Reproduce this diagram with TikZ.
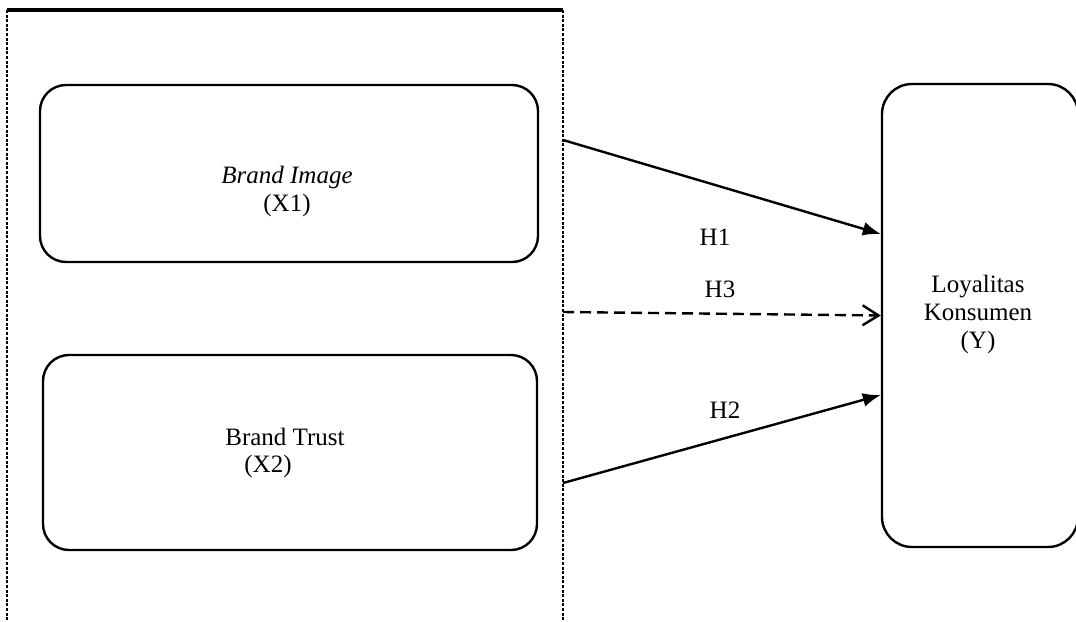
\documentclass[tikz,border=0pt]{standalone}
\usepackage{fontspec}
\setmainfont{Liberation Serif}
\usepackage{tikz}
\usetikzlibrary{arrows.meta}

\tikzset{
  varbox/.style={draw=black, line width=1.2pt, rounded corners=13pt, inner sep=0pt},
  lbl/.style={font=\fontsize{12.5}{14}\selectfont, inner sep=1pt},
  hyp/.style={line width=1.2pt, -{Latex[length=9pt,width=7pt]}},
}

\begin{document}
\begin{tikzpicture}[x=.5pt, y=-.5pt]

\useasboundingbox (0,0) rectangle (1076,621);
\clip (0,0) rectangle (1076,621);

% group of independent variables
\draw[line width=1.6pt] (7,10) -- (563,10);
\draw[line width=.6pt, dash pattern=on 1.5pt off .8pt] (7,10) -- (7,640);
\draw[line width=.6pt, dash pattern=on 1.5pt off .8pt] (563,10) -- (563,640);

\node[varbox, minimum width=249pt, minimum height=88.5pt] (bi) at (289,173.5) {};
\node[varbox, minimum width=247pt, minimum height=97.5pt] (bt) at (290,452.5) {};
\node[varbox, minimum width=98pt, minimum height=231.5pt, rounded corners=15pt] (ky) at (980,315.5) {};

\node[lbl] (bit) at (287,177) {\textit{Brand Image}};
\node[lbl] (bix) at (287,205) {(X1)};
\node[lbl] (btt) at (285,437) {Brand Trust};
\node[lbl] (btx) at (268,466) {(X2)};
\node[lbl, align=center] (kyt) at (978,314) {Loyalitas\\Konsumen\\(Y)};

\coordinate (h1s) at (563,140);
\coordinate (h3s) at (563,312);
\coordinate (h2s) at (563,483);
\coordinate (h1e) at (ky.west |- 0,234);
\coordinate (h2e) at (ky.west |- 0,395);

\draw[hyp] (h1s) -- (h1e);
\draw[hyp] (h2s) -- (h2e);
\draw[line width=1.2pt, dash pattern=on 5.5pt off 3pt, -{Straight Barb[length=8pt,width=10pt]}] (h3s) -- (ky.west);

\node[lbl] (h1) at (715,237) {H1};
\node[lbl] (h3) at (720,289) {H3};
\node[lbl] (h2) at (725,410) {H2};

\end{tikzpicture}
\end{document}
